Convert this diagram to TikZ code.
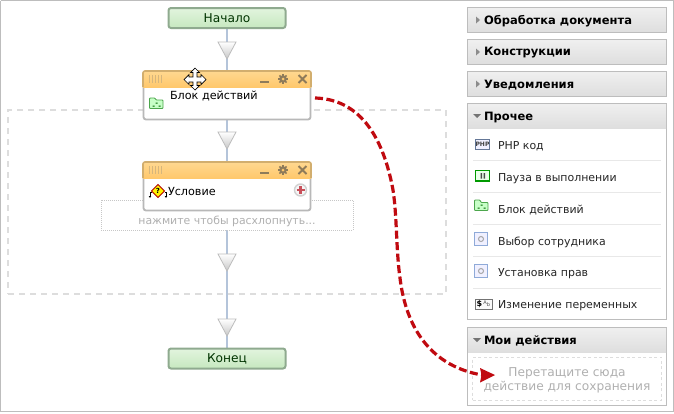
\documentclass[tikz,border=0pt]{standalone}
\usepackage{fontspec}
\setmainfont{DejaVu Sans}
\usetikzlibrary{arrows.meta}
\definecolor{frame}{HTML}{BDBDBD}
\definecolor{wire}{HTML}{B4C4DA}
\definecolor{okb}{HTML}{8FAA8F}
\definecolor{okt}{HTML}{E2F4DE}
\definecolor{okl}{HTML}{C6E8BF}
\definecolor{headb}{HTML}{D2AE6E}
\definecolor{headt}{HTML}{FFD78F}
\definecolor{headl}{HTML}{FFC86C}
\definecolor{ctl}{HTML}{8E7B5A}
\definecolor{redline}{HTML}{C00A10}
\definecolor{plusred}{HTML}{C8505A}
\definecolor{dashg}{HTML}{DDDDDD}
\definecolor{hint}{HTML}{B0B0B0}
\definecolor{sep}{HTML}{E8E8E8}
\definecolor{iconb}{HTML}{8FAAD8}
\tikzset{x=1pt,y=-1pt,
 every node/.style={inner sep=0pt,outer sep=0pt},
 flowterm/.style={rounded corners=2.5pt,draw=okb,line width=2pt,top color=okt,bottom color=okl,minimum width=117pt,minimum height=20pt,font=\fontsize{12.2}{14}\selectfont,text=black!80!green},
 tri/.style={draw=frame,line width=.8pt,top color=white,bottom color=black!22,line join=miter},
 wireline/.style={draw=wire,line width=1.8pt},
 cardbox/.style={rounded corners=2.5pt,draw=black!28,line width=1.8pt,fill=white},
 lbl/.style={anchor=west,font=\fontsize{11.2}{13}\selectfont},
 headbox/.style={draw=frame,line width=1pt,top color=white!94!black,bottom color=black!13},
 headlbl/.style={anchor=west,font=\fontsize{11.5}{13}\selectfont\bfseries},
 itemlbl/.style={anchor=west,font=\fontsize{10.95}{13}\selectfont,text=black!85},
 sepline/.style={draw=sep,line width=.8pt},
 ctlline/.style={draw=ctl,line width=2pt},
 greenicon/.style={draw=green!50!black!70,line width=.8pt,fill=green!22},
 blueicon/.style={draw=iconb,line width=.9pt,fill=blue!6},
}
\begin{document}
\begin{tikzpicture}
\useasboundingbox (0,0) rectangle (674,413);
\fill[white] (0,0) rectangle (674,413);
\draw[frame,line width=1.2pt] (0.6,0.6) -- (673.4,0.6) -- (673.4,412) ;
\draw[frame,line width=1.2pt] (0.6,0.6) -- (0.6,411.6) -- (673.4,411.6);
% dashed area
\node[draw=dashg,dash pattern=on 6pt off 5pt,line width=1.3pt,minimum width=438pt,minimum height=184pt] (area) at (227,202) {};
% wires
\coordinate (w0) at (227,29);
\coordinate (w9) at (227,348);
\draw[wireline] (w0) -- (w9);
% triangles
\foreach \n/\y in {t1/42,t2/132,t3/254,t4/319}{
 \coordinate (\n) at (227,\y);
 \draw[tri] (218,\y) -- (236,\y) -- (227,\y+17) -- cycle;
}
% terminals
\node[flowterm] (start) at (227,18) {Начало};
\node[flowterm] (end) at (227,358.5) {Конец};
% hint box
\node[draw=black!22,dash pattern=on 1pt off 1pt,line width=.8pt,minimum width=252pt,minimum height=30pt,fill=white] (hintbox) at (227,215) {};
\node[font=\fontsize{10.9}{13}\selectfont,text=hint] (hinttext) at (227,221) {нажмите чтобы расхлопнуть...};
% card 1
\node[cardbox,minimum width=167pt,minimum height=48pt] (card1) at (227,95.5) {};
\shade[top color=headt,bottom color=headl] (143,71.5) rectangle (311,87);
\draw[headb,line width=1.6pt,rounded corners=2pt] (143,87) -- (143,71) -- (311,71) -- (311,87);
\foreach \x in {149,152,155,158,161}{\draw[headb!90!white,line width=.8pt] (\x,75) -- (\x,83);}
\draw[ctlline] (260,82) -- (269,82);
\foreach \a in {0,45,...,315}{\draw[ctl,line width=1.6pt] (283,79) -- ++(\a:5);}
\fill[ctl] (283,79) circle (3.8pt);
\fill[headl] (283,79) circle (1.5pt);
\draw[ctlline] (298.5,75) -- (306.5,83) (306.5,75) -- (298.5,83);
% move cursor
\draw[black,line width=.7pt,fill=white,line join=miter]
 (195,68) -- (199.5,72.5) -- (197,72.5) -- (197,77) -- (201,77) -- (201,74.5) -- (206,79.5) -- (201,84.5) -- (201,82) -- (197,82) -- (197,85.5) -- (199.5,85.5) -- (195,90) -- (190.5,85.5) -- (193,85.5) -- (193,82) -- (189,82) -- (189,84.5) -- (184,79.5) -- (189,74.5) -- (189,77) -- (193,77) -- (193,72.5) -- (190.5,72.5) -- cycle;
\node[lbl] (card1text) at (170,96.5) {Блок действий};
\draw[greenicon,rounded corners=.8pt] (149.5,98) -- (155,98) -- (156,100) -- (163,100) -- (163,108.5) -- (149.5,108.5) -- cycle;
\fill[green!40!black] (155.5,102.5) rectangle +(2,1.2) (152.5,105.5) rectangle +(2,1.2) (158.5,105.5) rectangle +(2,1.2);
% card 2
\node[cardbox,minimum width=167pt,minimum height=48pt] (card2) at (227,186.5) {};
\shade[top color=headt,bottom color=headl] (143,162.5) rectangle (311,178);
\draw[headb,line width=1.6pt,rounded corners=2pt] (143,178) -- (143,162) -- (311,162) -- (311,178);
\foreach \x in {149,152,155,158,161}{\draw[headb!90!white,line width=.8pt] (\x,166) -- (\x,174);}
\draw[ctlline] (260,172.5) -- (269,172.5);
\foreach \a in {0,45,...,315}{\draw[ctl,line width=1.6pt] (283,170) -- ++(\a:5);}
\fill[ctl] (283,170) circle (3.8pt);
\fill[headl] (283,170) circle (1.5pt);
\draw[ctlline] (298.5,166) -- (306.5,174) (306.5,166) -- (298.5,174);
\node[lbl] (card2text) at (168,191.5) {Условие};
\draw[red!70!black,line width=.8pt,fill=yellow] (158,184.5) -- (164.5,191) -- (158,197.5) -- (151.5,191) -- cycle;
\node[font=\fontsize{7}{8}\selectfont\bfseries] (qmark) at (158,191) {?};
\draw[black,line width=.5pt] (151.5,192) -- (150,192) -- (150,197) (164.5,192) -- (166,192) -- (166,197);
\fill[black] (148.7,196) -- (151.3,196) -- (150,198) -- cycle (164.7,196) -- (167.3,196) -- (166,198) -- cycle;
\node[circle,draw=black!18,line width=1.4pt,fill=black!4,minimum size=12pt] (plus) at (300.5,190) {};
\draw[plusred,line width=2.2pt] (296.5,190) -- (304.5,190) (300.5,186) -- (300.5,194);
% sidebar
\foreach \n/\a/\b/\t in {h1/7/33/Обработка документа,h2/39/65/Конструкции,h3/71/97/Уведомления}{
 \node[headbox,minimum width=199pt,minimum height=25pt] (\n) at (567,{(\a+\b)/2}) {};
 \node[headlbl] at (484,{(\a+\b)/2+1}) {\t};
 \fill[black!45] (476,{(\a+\b)/2-3.5}) -- (480,{(\a+\b)/2}) -- (476,{(\a+\b)/2+3.5}) -- cycle;
}
\node[draw=frame,line width=1pt,fill=white,minimum width=199pt,minimum height=216pt] (other) at (567,211.5) {};
\node[headbox,draw=none,minimum width=198pt,minimum height=25pt] (h4) at (567,116) {};
\draw[frame,line width=1pt] (467.5,103.5) -- (666.5,103.5);
\node[headlbl] (h4t) at (484,117) {Прочее};
\fill[black!55] (473,114) -- (481,114) -- (477,118) -- cycle;
% items
\foreach \y/\t in {146/PHP код,178.5/Пауза в выполнении,210/Блок действий,242/Выбор сотрудника,274/Установка прав,306/Изменение переменных}{
 \node[itemlbl] at (498,\y) {\t};
}
\foreach \y in {160.5,192.5,224.5,256.5,288.5}{\draw[sepline] (473,\y) -- (661,\y);}
% icons
\draw[iconb!70!black,line width=.9pt,fill=blue!6] (475.5,139.5) rectangle (489.5,149);
\node[font=\fontsize{6}{6}\selectfont\bfseries,text=black!75] (iphp) at (482.5,144.3) {PHP};
\draw[green!60!black,line width=1.2pt,fill=green!8] (475.5,170.5) rectangle (489.5,181);
\fill[black!70] (480.5,173) rectangle (482,178.5) (483.5,173) rectangle (485,178.5);
\draw[greenicon,rounded corners=.8pt] (474.5,200) -- (480,200) -- (481,202.5) -- (488,202.5) -- (488,210.5) -- (474.5,210.5) -- cycle;
\fill[green!40!black] (480.5,204.5) rectangle +(2,1.2) (477.5,207.5) rectangle +(2,1.2) (483.5,207.5) rectangle +(2,1.2);
\foreach \y in {239,271}{
 \draw[blueicon] (474.5,\y-6.5) rectangle (487.5,\y+6);
 \draw[black!35,line width=1pt] (481,\y) circle (2.5pt);
}
\draw[black!55,line width=.7pt,fill=black!2] (475,299) rectangle (492.5,309);
\node[font=\fontsize{8}{8}\selectfont\bfseries] (idollar) at (479.5,304) {\$};
\node[font=\fontsize{5}{6}\selectfont,text=black!70] (iab) at (487,303.5) {A\textsubscript{b}};
% my actions
\node[draw=frame,line width=1pt,fill=white,minimum width=199pt,minimum height=78pt] (mine) at (567,366) {};
\node[headbox,draw=none,minimum width=198pt,minimum height=25pt] (h5) at (567,340) {};
\draw[frame,line width=1pt] (467.5,327.5) -- (666.5,327.5);
\node[headlbl] (h5t) at (484,341) {Мои действия};
\fill[black!55] (473,338) -- (481,338) -- (477,342) -- cycle;
\node[draw=dashg,dash pattern=on 3pt off 2.5pt,line width=.8pt,minimum width=189pt,minimum height=43pt,fill=white] (drop) at (567,378.5) {};
\node[align=center,font=\fontsize{12.2}{14.2}\selectfont,text=hint] (droptext) at (567,380.5) {Перетащите сюда\\действие для сохранения};
% red arrow
\coordinate (rs) at (315,98);
\coordinate (re) at (495,375);
\draw[redline,line width=3.2pt,dash pattern=on 8pt off 3.5pt]
 (rs) .. controls (352,99) and (381,125) .. (393,190)
 .. controls (397,215) and (396,250) .. (400,278)
 .. controls (405,320) and (425,365) .. (482,375);
\fill[redline] (re) -- (480,368) -- (481.5,375) -- (480,382.5) -- cycle;
\end{tikzpicture}
\end{document}
